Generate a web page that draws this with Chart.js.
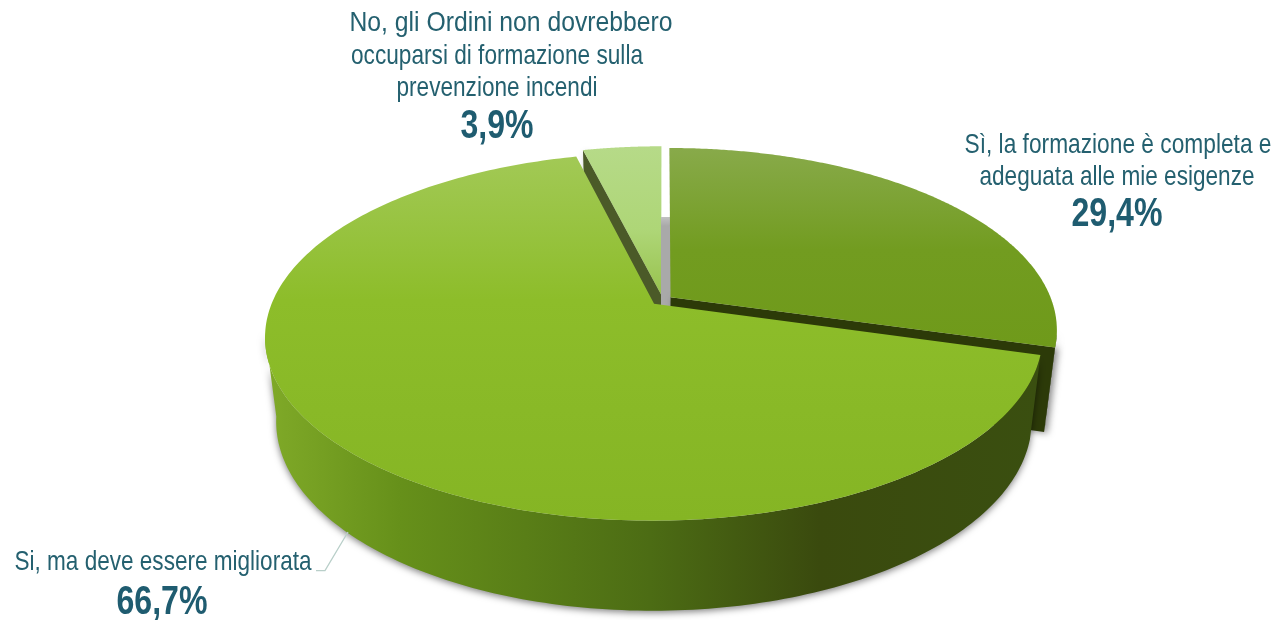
<!DOCTYPE html>
<html><head><meta charset="utf-8">
<style>html,body{margin:0;padding:0;background:#fff;overflow:hidden}canvas{display:block}</style>
<script src="https://cdn.jsdelivr.net/npm/chart.js@4/dist/chart.umd.js"></script>
</head><body><canvas id="c" width="1278" height="620"></canvas>
<script>
// data
const categories = [
  ["Sì, la formazione è completa e","adeguata alle mie esigenze"],
  ["Si, ma deve essere migliorata"],
  ["No, gli Ordini non dovrebbero","occuparsi di formazione sulla","prevenzione incendi"]
];
const values = [29.4, 66.7, 3.9];

// styles
const baseColors = ["#729c20","#8bbb26","#aed677"];
const cutColors = ["#2c3a08","#3a4d12","#4b5a28"];
const sliceOffsets = [8,9.5,9];
const faceStops = [
  [[148,"#88aa4a"],[250,"#729c20"],[350,"#6f9a1a"]],
  [[156,"#a2c956"],[300,"#8dbd2a"],[520,"#85b524"]],
  [[147,"#b6da88"],[230,"#aed677"],[295,"#98c24e"]]
];
const rimStops = [[265,"#80aa28"],[400,"#66901a"],[650,"#4c6c14"],[820,"#3a4a0e"],[1040,"#3a4f10"]];
const TEXT = "#24606f", BOLD = "#1f5c70";
const SANS = '"Liberation Sans",Arial,sans-serif';
// [centre x, middle y, width]
const labelLines = [
  [[1118,145,307],[1117,177,275]],
  [[163,562,297]],
  [[511,23,323],[497,56,292],[497,88,201]]
];
const pctPos = [[1117,215,91],[162,603,91],[497,127,73]];
// projection constants
const CX=662.6, CY=300, A=176.7, B=381, P=0.178, D=82.5;

function proj(u,v,low){
  const w=1+P*v; let x=CX+B*u/w, y=CY-A*v/w;
  if(low){ x=CX+(x-CX)*0.972; y+=D*(1-0.09*v); }
  return [x,y];
}
class Arc3D extends Chart.ArcElement {
  draw(ctx){
    const i=this.$context.index, a0=this.startAngle, a1=this.endAngle, mid=(a0+a1)/2;
    const e=(this.options.offset||0)/this.outerRadius;
    const ou=e*Math.cos(mid), ov=-e*Math.sin(mid);
    const pt=(a,r,low)=>proj(ou+r*Math.cos(a),ov-r*Math.sin(a),low);
    const N=240, poly=(pts)=>{ctx.beginPath();pts.forEach((p,k)=>k?ctx.lineTo(p[0],p[1]):ctx.moveTo(p[0],p[1]));ctx.closePath();};
    const samples=[];for(let k=0;k<=N;k++)samples.push(a0+(a1-a0)*k/N);
    ctx.save();
    // outer wall (front part only)
    const front=samples.filter(a=>ov-Math.sin(a)<-0.17);
    if(front.length>1){
      const g=ctx.createLinearGradient(265,0,1040,0);
      rimStops.forEach(s=>g.addColorStop((s[0]-265)/775,s[1]));
      ctx.save();
      ctx.shadowColor="rgba(0,0,0,0.5)";ctx.shadowBlur=7;ctx.shadowOffsetX=0;ctx.shadowOffsetY=2;
      poly(front.map(a=>pt(a,1,false)).concat(front.slice().reverse().map(a=>pt(a,1,true))));
      ctx.fillStyle=g;ctx.fill();ctx.restore();
    }
    // cut walls facing the viewer
    const cut=(a)=>{
      poly([pt(a,0,false),pt(a,1,false),pt(a,1,true),pt(a,0,true)]);
      ctx.fillStyle=cutColors[i];
      ctx.save();ctx.shadowColor="rgba(0,0,0,0.45)";ctx.shadowBlur=7;ctx.shadowOffsetX=3;ctx.shadowOffsetY=1;ctx.fill();ctx.restore();
    };
    if(Math.sin(a0+Math.PI/2)<-1e-6) cut(a0);
    if(Math.sin(a1+Math.PI/2)>1e-6) cut(a1);
    // top face
    const st=faceStops[i], y0=st[0][0], y1=st[st.length-1][0];
    const g2=ctx.createLinearGradient(0,y0,0,y1);
    st.forEach(s=>g2.addColorStop((s[0]-y0)/(y1-y0),s[1]));
    poly([pt(a0,0,false)].concat(samples.map(a=>pt(a,1,false))));
    ctx.fillStyle=g2;ctx.fill();
    ctx.restore();
  }
}
Arc3D.id="arc3d";
class Pie3D extends Chart.PieController {
  draw(){
    const ctx=this.chart.ctx, arcs=this._cachedMeta.data;
    arcs[2].draw(ctx);
    const g=ctx.createLinearGradient(0,216,0,226);
    g.addColorStop(0,"#c4c4c4");g.addColorStop(1,"#a9a9a9");
    ctx.fillStyle=g;ctx.fillRect(661,217,10,90);
    arcs[0].draw(ctx);
    arcs[1].draw(ctx);
  }
}
Pie3D.id="pie3d";
Pie3D.defaults={dataElementType:"arc3d"};
Chart.register(Arc3D,Pie3D);

const labelsPlugin={
  id:"sliceLabels",
  afterDraw(chart){
    const ctx=chart.ctx;
    ctx.save();
    ctx.textAlign="center";ctx.textBaseline="middle";
    ctx.strokeStyle="#b9cfc9";ctx.lineWidth=1.3;
    ctx.beginPath();ctx.moveTo(316,570.7);ctx.lineTo(325,570.7);ctx.lineTo(348,532);ctx.stroke();
    categories.forEach((lines,i)=>{
      ctx.fillStyle=TEXT;ctx.font='27.5px '+SANS;
      lines.forEach((t,k)=>{const p=labelLines[i][k];ctx.fillText(t,p[0],p[1],p[2]);});
      ctx.fillStyle=BOLD;ctx.font='bold 40px '+SANS;
      const q=pctPos[i];
      ctx.fillText(values[i].toFixed(1).replace(".",",")+"%",q[0],q[1],q[2]);
    });
    ctx.restore();
  }
};
new Chart(document.getElementById("c"),{
  type:"pie3d",
  data:{labels:categories.map(l=>l.join(" ")),datasets:[{data:values,backgroundColor:baseColors,offset:sliceOffsets,borderWidth:0}]},
  options:{responsive:false,animation:false,events:[],
    plugins:{legend:{display:false},tooltip:{enabled:false}}},
  plugins:[labelsPlugin]
});
</script></body></html>
